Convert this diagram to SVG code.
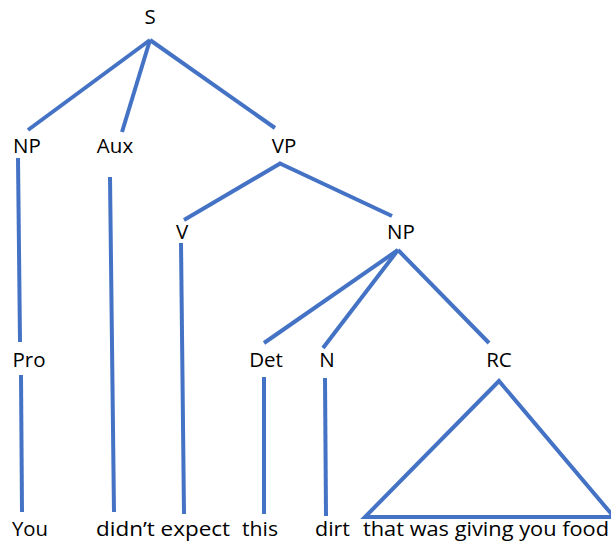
<svg xmlns="http://www.w3.org/2000/svg" width="611" height="542" viewBox="0 0 611 542">
<style>
.t{font-family:"Open Sans","Segoe UI","DejaVu Sans",sans-serif;font-size:20.5px;fill:#000}
.c{text-anchor:middle}
.b{font-size:19.5px}
.e{stroke:#4472C4;stroke-width:4;fill:none;stroke-linecap:butt;stroke-linejoin:miter}
</style>
<rect width="611" height="542" fill="#fff"/>
<g id="connectors" class="e">
<line x1="150" y1="40" x2="28" y2="130"/>
<line x1="150" y1="40" x2="122" y2="132"/>
<line x1="150" y1="40" x2="275" y2="128"/>
<line x1="18" y1="158" x2="20" y2="342"/>
<line x1="110" y1="177" x2="114" y2="512"/>
<line x1="281" y1="163" x2="184" y2="220"/>
<line x1="279" y1="163" x2="392" y2="216"/>
<line x1="181" y1="243" x2="184" y2="514"/>
<line x1="398" y1="250" x2="264" y2="343"/>
<line x1="398" y1="250" x2="323" y2="348"/>
<line x1="398" y1="250" x2="489" y2="343"/>
<line x1="21" y1="375" x2="22" y2="512"/>
<line x1="264" y1="377" x2="264" y2="514"/>
<line x1="325" y1="378" x2="326" y2="516"/>
<polygon points="499,381 365,517 614,517"/>
</g>
<g id="n-S"><text class="t c" x="150" y="24">S</text></g>
<g id="n-NP1"><text class="t c" x="27" y="153">NP</text></g>
<g id="n-Aux"><text class="t c" x="115" y="153">Aux</text></g>
<g id="n-VP"><text class="t c" x="284" y="153">VP</text></g>
<g id="n-V"><text class="t c" x="182" y="239">V</text></g>
<g id="n-NP2"><text class="t c" x="401" y="239">NP</text></g>
<g id="n-Pro"><text class="t c" x="29" y="367">Pro</text></g>
<g id="n-Det"><text class="t c" x="266" y="367">Det</text></g>
<g id="n-N"><text class="t c" x="327" y="367">N</text></g>
<g id="n-RC"><text class="t c" x="499" y="367">RC</text></g>
<g id="w-You"><text class="t b" x="12" y="536" textLength="36" lengthAdjust="spacingAndGlyphs">You</text></g>
<g id="w-didnt"><text class="t b" x="96" y="536" textLength="134" lengthAdjust="spacingAndGlyphs">didn’t expect</text></g>
<g id="w-this"><text class="t b" x="242" y="536" textLength="36" lengthAdjust="spacingAndGlyphs">this</text></g>
<g id="w-dirt"><text class="t b" x="315" y="536" textLength="35" lengthAdjust="spacingAndGlyphs">dirt</text></g>
<g id="w-rc"><text class="t b" x="363" y="536" textLength="246" lengthAdjust="spacingAndGlyphs">that was giving you food</text></g>
</svg>
